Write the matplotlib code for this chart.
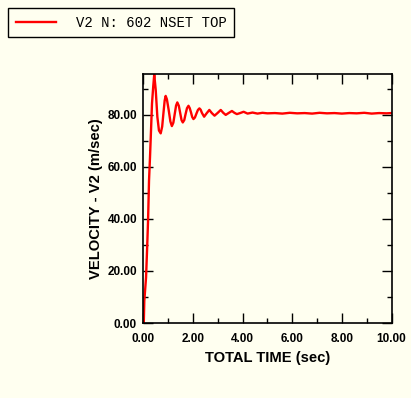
import matplotlib
matplotlib.use("Agg")
import matplotlib.pyplot as plt
from matplotlib.ticker import MultipleLocator, FormatStrFormatter

# ---- data ----
time_s = [0.00, 0.02, 0.04, 0.11, 0.15, 0.19, 0.23, 0.27, 0.31, 0.35, 0.40, 0.44,
          0.50, 0.565, 0.63, 0.70, 0.76, 0.81, 0.86, 0.90, 0.95, 1.02, 1.09, 1.15,
          1.21, 1.26, 1.32, 1.37, 1.43, 1.48, 1.54, 1.59, 1.65, 1.70, 1.76, 1.82,
          1.87, 1.92, 1.97, 2.02, 2.08, 2.14, 2.20, 2.26, 2.31, 2.36, 2.45, 2.55,
          2.66, 2.76, 2.87, 3.00, 3.12, 3.22, 3.32, 3.45, 3.57, 3.67, 3.77, 3.90,
          4.04, 4.20, 4.40, 4.60, 4.80, 5.00, 5.30, 5.60, 5.90, 6.20, 6.50, 6.80,
          7.10, 7.40, 7.70, 8.00, 8.30, 8.60, 8.90, 9.20, 9.50, 9.80, 10.00]
velocity = [0.0, 0.5, 8.5, 17.5, 27.8, 39.0, 54.8, 63.8, 74.0, 84.4, 91.0, 95.5,
            89.6, 79.3, 74.0, 72.9, 75.5, 80.6, 85.5, 87.3, 86.0, 82.0, 77.5, 75.7,
            77.0, 80.0, 83.6, 84.8, 83.5, 81.0, 78.0, 77.1, 78.0, 80.2, 82.6, 83.5,
            82.6, 81.0, 79.2, 78.4, 79.0, 80.5, 81.9, 82.5, 82.0, 80.8, 79.3, 80.6,
            81.9, 80.7, 79.7, 80.8, 81.9, 80.8, 80.0, 80.8, 81.5, 80.8, 80.3, 80.7,
            81.2, 80.5, 80.9, 80.5, 80.8, 80.6, 80.7, 80.5, 80.8, 80.6, 80.7, 80.5,
            80.8, 80.6, 80.7, 80.5, 80.7, 80.6, 80.8, 80.5, 80.7, 80.6, 80.7]

series_label = "V2 N: 602 NSET TOP"
x_label = "TOTAL TIME (sec)"
y_label = "VELOCITY - V2 (m/sec)"

bg = "#FFFFF0"

fig = plt.figure(figsize=(4.11, 3.98), dpi=100, facecolor=bg)
ax = fig.add_axes([0.3487, 0.1884, 0.6039, 0.6249], facecolor=bg)

line, = ax.plot(time_s, velocity, color="#FF0000", lw=1.7, label=series_label)

ax.set_xlim(0, 10)
ax.set_ylim(0, 95.6)
ax.xaxis.set_major_locator(MultipleLocator(2))
ax.xaxis.set_minor_locator(MultipleLocator(1))
ax.yaxis.set_major_locator(MultipleLocator(20))
ax.yaxis.set_minor_locator(MultipleLocator(10))
ax.xaxis.set_major_formatter(FormatStrFormatter("%.2f"))
ax.yaxis.set_major_formatter(FormatStrFormatter("%.2f"))

for s in ax.spines.values():
    s.set_linewidth(1.2)
    s.set_color("black")

ax.tick_params(which="both", direction="in", top=True, right=True,
               color="black", width=1.0)
ax.tick_params(which="major", length=7)
ax.tick_params(which="minor", length=3.5)
ax.tick_params(axis="y", which="major", pad=4.5)
ax.tick_params(axis="x", which="major", pad=7.5)
for lab in ax.get_xticklabels() + ax.get_yticklabels():
    lab.set_fontfamily("Liberation Sans")
    lab.set_fontweight("bold")
    lab.set_fontsize(8.5)

ax.set_xlabel(x_label, fontfamily="Liberation Sans", fontweight="bold",
              fontsize=10.6)
ax.set_ylabel(y_label, fontfamily="Liberation Sans", fontweight="bold",
              fontsize=10.6)
ax.xaxis.set_label_coords(0.5, -0.112)
ax.yaxis.set_label_coords(-0.164, 0.5)

leg = fig.legend(handles=[line], loc="upper left",
                 bbox_to_anchor=(8 / 411, 1 - 8 / 398),
                 prop={"family": "Liberation Mono", "size": 10},
                 frameon=True, fancybox=False, edgecolor="black",
                 facecolor=bg, framealpha=1, borderaxespad=0,
                 handlelength=2.9, handletextpad=1.45, borderpad=0.55)
leg.get_frame().set_linewidth(1.0)

fig.savefig("out.png", dpi=100, facecolor=bg)
